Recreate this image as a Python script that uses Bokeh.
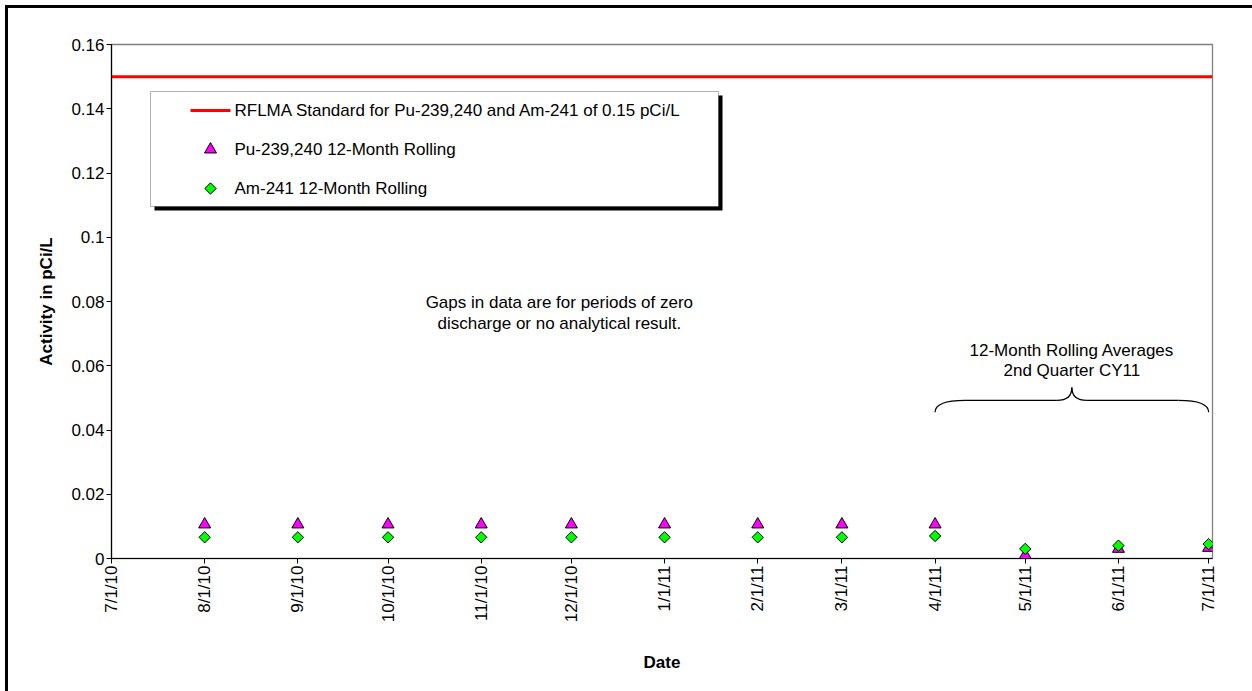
from datetime import datetime
import numpy as np
from bokeh.plotting import figure
from bokeh.layouts import row, column
from bokeh.models import (Range1d, FixedTicker, CustomJSTickFormatter, Label,
                          BoxAnnotation, ColumnDataSource, Div)
from bokeh.embed import file_html
from bokeh.resources import INLINE

# ---------------- data ----------------
point_dates = ["2010-08-01", "2010-09-01", "2010-10-01", "2010-11-01", "2010-12-01",
               "2011-01-01", "2011-02-01", "2011-03-01", "2011-04-01", "2011-05-01",
               "2011-06-01", "2011-07-01"]
pu_rolling = [0.0106, 0.0106, 0.0106, 0.0106, 0.0106, 0.0106, 0.0106, 0.0106, 0.0106,
              0.0010, 0.0030, 0.0033]
am_rolling = [0.0066, 0.0066, 0.0066, 0.0066, 0.0066, 0.0066, 0.0066, 0.0066, 0.0070,
              0.0030, 0.0040, 0.0045]
tick_dates = ["2010-07-01", "2010-08-01", "2010-09-01", "2010-10-01", "2010-11-01",
              "2010-12-01", "2011-01-01", "2011-02-01", "2011-03-01", "2011-04-01",
              "2011-05-01", "2011-06-01", "2011-07-01"]
y_ticks = [0, 0.02, 0.04, 0.06, 0.08, 0.10, 0.12, 0.14, 0.16]
rflma_standard = 0.15
brace_start, brace_end = "2011-04-01", "2011-07-01"
legend_labels = ["RFLMA Standard for Pu-239,240 and Am-241 of 0.15 pCi/L",
                 "Pu-239,240 12-Month Rolling",
                 "Am-241 12-Month Rolling"]

FONT = "Liberation Sans"
EPOCH = datetime(1970, 1, 1)


def ms(s):
    return (datetime.fromisoformat(s) - EPOCH).total_seconds() * 1000.0


# ---------------- layout constants (canvas px) ----------------
W, H = 1244, 683
FL, FT, FR, FB = 103, 36, 1204, 550          # frame edges on the canvas

x0_ms = ms(tick_dates[0])
x1_ms = ms("2011-07-02") + 7 * 3600 * 1000.0
Y0, Y1 = 0.0, 0.16

p = figure(width=W, height=H, x_axis_type="datetime",
           x_range=Range1d(x0_ms, x1_ms), y_range=Range1d(Y0, Y1),
           output_backend="svg", toolbar_location=None,
           min_border_left=FL, min_border_right=W - FR, min_border_top=FT,
           min_border_bottom=H - FB)
p.grid.visible = False
p.outline_line_color = "#808080"
p.outline_line_width = 1.3
p.background_fill_color = "white"
p.border_fill_color = "white"

# axes
for ax in (p.xaxis[0], p.yaxis[0]):
    ax.axis_line_color = "black"
    ax.axis_line_width = 1.2
    ax.major_tick_line_color = "black"
    ax.major_tick_in = 0
    ax.major_tick_out = 5
    ax.minor_tick_line_color = None
    ax.major_label_text_font = FONT
    ax.major_label_text_font_size = "17px"
    ax.major_label_text_color = "black"
    ax.axis_label_text_font = FONT
    ax.axis_label_text_font_size = "17px"
    ax.axis_label_text_font_style = "bold"
    ax.axis_label_text_color = "black"

p.yaxis.ticker = FixedTicker(ticks=y_ticks)
p.yaxis.formatter = CustomJSTickFormatter(code="return Number(tick.toFixed(2)).toString();")
p.yaxis.axis_label = "Activity in pCi/L"
p.yaxis.major_label_standoff = 2
p.yaxis.axis_label_standoff = 12

p.xaxis.ticker = FixedTicker(ticks=[ms(d) for d in tick_dates])
p.xaxis.formatter = CustomJSTickFormatter(code="""
const d = new Date(tick);
return (d.getUTCMonth()+1) + '/' + d.getUTCDate() + '/' + String(d.getUTCFullYear()).slice(2);
""")
p.xaxis.major_label_orientation = np.pi / 2
p.xaxis.major_label_standoff = 2
p.xaxis.axis_label = "Date"
p.xaxis.axis_label_standoff = 28


# helpers: canvas px -> data (for legend symbols only)
def px_to_x(px):
    return x0_ms + (px - FL) / (FR - FL) * (x1_ms - x0_ms)


def py_to_y(py):
    return Y0 + (FB - py) / (FB - FT) * (Y1 - Y0)


# ---------------- legend box with shadow (drawn beneath glyphs) ----------------
LB_L, LB_T, LB_R, LB_B, SH = 142, 83, 710, 198, 4


def box(l, t, r, b, **kw):
    return BoxAnnotation(left=l - FL, right=r - FL, top=FB - t, bottom=FB - b,
                         left_units="screen", right_units="screen",
                         top_units="screen", bottom_units="screen",
                         level="underlay", **kw)


p.add_layout(box(LB_L + SH, LB_T + SH, LB_R + SH, LB_B + SH,
                 fill_color="black", fill_alpha=1, line_color=None))
p.add_layout(box(LB_L, LB_T, LB_R, LB_B, fill_color="white", fill_alpha=1,
                 line_color="black", line_width=1))

# standard line
p.line(x=[x0_ms, x1_ms], y=[rflma_standard, rflma_standard],
       line_color="#FF0000", line_width=3)

# data
src = ColumnDataSource(dict(x=[ms(d) for d in point_dates], pu=pu_rolling, am=am_rolling))
p.scatter("x", "pu", source=src, marker="triangle", size=12,
          fill_color="#FF00FF", line_color="black", line_width=1)
p.scatter("x", "am", source=src, marker="square", angle=np.pi / 4, size=8,
          fill_color="#00FF00", line_color="black", line_width=1)

# legend symbols and texts
rows_py = [102, 141, 180]
sym_l, sym_r, txt_x = 182, 222, 226
p.line(x=[px_to_x(sym_l), px_to_x(sym_r)], y=[py_to_y(rows_py[0])] * 2,
       line_color="#FF0000", line_width=3)
p.scatter(x=[px_to_x((sym_l + sym_r) / 2)], y=[py_to_y(rows_py[1])], marker="triangle",
          size=12, fill_color="#FF00FF", line_color="black", line_width=1)
p.scatter(x=[px_to_x((sym_l + sym_r) / 2)], y=[py_to_y(rows_py[2])], marker="square",
          angle=np.pi / 4, size=8, fill_color="#00FF00", line_color="black", line_width=1)
for txt, py in zip(legend_labels, rows_py):
    p.add_layout(Label(x=txt_x - FL, y=FB - py, x_units="screen", y_units="screen",
                       text=txt, text_align="left", text_baseline="middle",
                       text_font=FONT, text_font_size="17px", text_color="black"))

# ---------------- annotation text ----------------
gap_x = ms("2010-11-27")
for txt, yv in [("Gaps in data are for periods of zero", 0.0797),
                ("discharge or no analytical result.", 0.0731)]:
    p.add_layout(Label(x=gap_x, y=yv, text=txt, text_align="center",
                       text_baseline="middle", text_font=FONT,
                       text_font_size="17px", text_color="black"))

b0, b1 = ms(brace_start), ms(brace_end)
bm = (b0 + b1) / 2
for txt, yv in [("12-Month Rolling Averages", 0.0647),
                ("2nd Quarter CY11", 0.0585)]:
    p.add_layout(Label(x=bm, y=yv, text=txt, text_align="center",
                       text_baseline="middle", text_font=FONT,
                       text_font_size="17px", text_color="black"))

# curly brace
DAY = 86400000.0
y_end, y_bar, y_peak = 0.0455, 0.0492, 0.0532
d_end, d_mid = 10 * DAY, 5 * DAY
p.quadratic(x0=[b0, b1, bm, bm], y0=[y_end, y_end, y_peak, y_peak],
            x1=[b0 + d_end, b1 - d_end, bm - d_mid, bm + d_mid],
            y1=[y_bar, y_bar, y_bar, y_bar],
            cx=[b0, b1, bm, bm], cy=[y_bar, y_bar, y_bar, y_bar],
            line_color="black", line_width=1.3)
p.segment(x0=[b0 + d_end, bm + d_mid], y0=[y_bar, y_bar],
          x1=[bm - d_mid, b1 - d_end], y1=[y_bar, y_bar],
          line_color="black", line_width=1.3)

# ---------------- outer chart border (left and top only) ----------------
left_bar = Div(text="", width=3, height=H + 3, margin=0,
               styles={"background-color": "black"})
top_bar = Div(text="", width=W, height=3, margin=0,
              styles={"background-color": "black"})
inner = column(top_bar, p, spacing=0, margin=0)
page = row(left_bar, inner, spacing=0, margin=(5, 0, 0, 5))

open("out.html", "w").write(file_html(page, INLINE))
